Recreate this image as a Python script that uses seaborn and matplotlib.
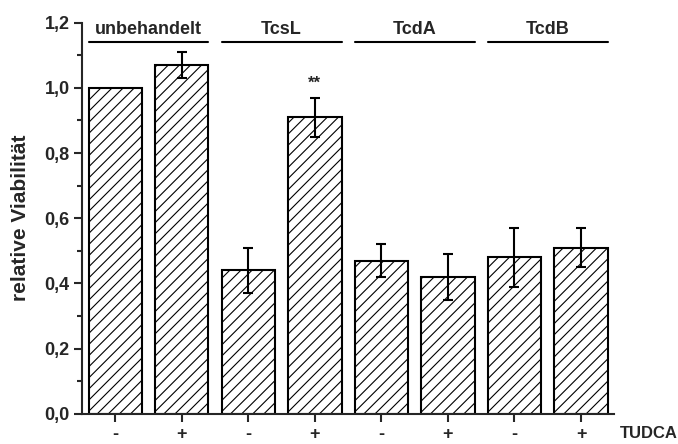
import matplotlib
matplotlib.use("Agg")
import matplotlib.pyplot as plt
import seaborn as sns
import pandas as pd
from matplotlib.ticker import MultipleLocator, FuncFormatter

groups = ["unbehandelt", "TcsL", "TcdA", "TcdB"]
tudca = ["-", "+"]
values = [1.00, 1.07, 0.44, 0.91, 0.47, 0.42, 0.48, 0.51]
errors = [0.0, 0.04, 0.07, 0.06, 0.05, 0.07, 0.09, 0.06]
significance = ["", "", "", "**", "", "", "", ""]

cats = [f"{g} {t}" for g in groups for t in tudca]
df = pd.DataFrame({"cat": cats, "val": values})

sns.set_style("ticks")
plt.rcParams["font.family"] = ["Liberation Sans", "DejaVu Sans"]
plt.rcParams["font.weight"] = "bold"
plt.rcParams["hatch.linewidth"] = 0.8

fig = plt.figure(figsize=(6.78, 4.44), dpi=100)
ax = fig.add_axes([0.121, 0.068, 0.785, 0.881])

sns.barplot(data=df, x="cat", y="val", order=cats, color="white",
            edgecolor="black", linewidth=1.5, width=0.8, errorbar=None, ax=ax)
for p in ax.patches:
    p.set_hatch("///")
    p.set_facecolor("white")

xs = list(range(len(cats)))
for x, v, e in zip(xs, values, errors):
    if e > 0:
        ax.errorbar(x, v, yerr=e, fmt="none", ecolor="black",
                    elinewidth=1.5, capsize=3.5, capthick=1.5)
for x, v, e, s in zip(xs, values, errors, significance):
    if s:
        ax.text(x, v + e + 0.02, s, ha="center", va="bottom",
                fontsize=12, fontweight="bold")

ax.set_xlim(-0.5, 7.5)
ax.set_ylim(0, 1.2)
ax.yaxis.set_major_locator(MultipleLocator(0.2))
ax.yaxis.set_minor_locator(MultipleLocator(0.1))
ax.yaxis.set_major_formatter(FuncFormatter(lambda v, p: f"{v:.1f}".replace(".", ",")))
ax.set_xticks(xs)
ax.set_xticklabels([t for g in groups for t in tudca], fontsize=13, fontweight="bold")
for lbl in ax.get_yticklabels():
    lbl.set_fontsize(13)
    lbl.set_fontweight("bold")
ax.tick_params(axis="y", which="major", length=6, width=1.5, direction="out", pad=3)
ax.tick_params(axis="y", which="minor", length=3.5, width=1.5, direction="out")
ax.tick_params(axis="x", which="major", length=6, width=1.5, direction="out", pad=3)
for s in ["left", "bottom"]:
    ax.spines[s].set_linewidth(1.5)
sns.despine(ax=ax)

ax.set_xlabel("")
ax.set_ylabel("relative Viabilität", fontsize=15, fontweight="bold", labelpad=10)

for i, g in enumerate(groups):
    x0 = 2 * i - 0.4
    x1 = 2 * i + 1.4
    ax.plot([x0, x1], [1.14, 1.14], color="black", lw=1.5, clip_on=False)
    ax.text((x0 + x1) / 2, 1.152, g, ha="center", va="bottom",
            fontsize=13, fontweight="bold")

ax.annotate("TUDCA", xy=(1.0, 0.0), xycoords="axes fraction",
            xytext=(4, -9), textcoords="offset points",
            ha="left", va="top", fontsize=12, fontweight="bold")

fig.savefig("out.png", dpi=100)
